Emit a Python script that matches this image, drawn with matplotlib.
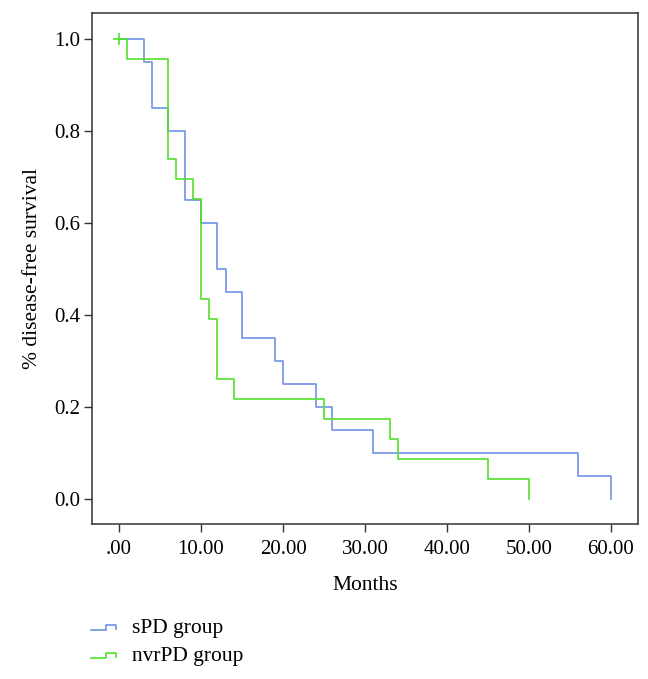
import matplotlib.pyplot as plt
from matplotlib.lines import Line2D

# Kaplan-Meier steps
spd_months = [0, 3, 4, 6, 8, 10, 12, 13, 15, 19, 20, 24, 26, 31, 56, 60]
spd_survival = [1.0, 0.95, 0.85, 0.80, 0.65, 0.60, 0.50, 0.45, 0.35, 0.30, 0.25, 0.20, 0.15, 0.10, 0.05, 0.0]

nvrpd_months = [0, 1, 6, 7, 9, 10, 11, 12, 14, 25, 33, 34, 45, 50]
nvrpd_survival = [1.0, 0.957, 0.739, 0.696, 0.652, 0.435, 0.391, 0.261, 0.217, 0.174, 0.130, 0.087, 0.043, 0.0]

nvrpd_censor_months = [0]
nvrpd_censor_survival = [1.0]

group_labels = ["sPD group", "nvrPD group"]
x_ticks = [0, 10, 20, 30, 40, 50, 60]
x_tick_labels = [".00", "10.00", "20.00", "30.00", "40.00", "50.00", "60.00"]
y_ticks = [0.0, 0.2, 0.4, 0.6, 0.8, 1.0]
y_tick_labels = ["0.0", "0.2", "0.4", "0.6", "0.8", "1.0"]

BLUE = "#7092E6"
GREEN = "#52E02C"
EDGE = "#333333"

plt.rcParams["font.family"] = ["Liberation Serif", "DejaVu Serif"]

W, H = 648, 679
fig = plt.figure(figsize=(W / 100, H / 100), dpi=100)
ax = fig.add_axes([92 / W, 1 - 524 / H, (638 - 92) / W, (524 - 13) / H])

ax.step(spd_months, spd_survival, where="post", color=BLUE, lw=1.2)
ax.step(nvrpd_months, nvrpd_survival, where="post", color=GREEN, lw=1.2)
ax.plot(nvrpd_censor_months, nvrpd_censor_survival, "+", color=GREEN, ms=9, mew=1.2)

ax.set_xlim(-3.3, 63.3)
ax.set_ylim(-0.055, 1.057)
ax.set_xticks(x_ticks)
ax.set_xticklabels(x_tick_labels)
ax.set_yticks(y_ticks)
ax.set_yticklabels(y_tick_labels)
ax.tick_params(direction="out", length=5.5, width=1, color=EDGE, labelsize=15, pad=3)
ax.tick_params(axis="x", pad=6)
for spine in ax.spines.values():
    spine.set_color(EDGE)
    spine.set_linewidth(1.1)

ax.set_xlabel("Months", fontsize=15.5, labelpad=12)
ax.set_ylabel("% disease-free survival", fontsize=15.5, labelpad=9)


def _step_handle(y_px: float, color: str) -> None:
    xs = [91, 106, 106, 116, 116]
    ys = [y_px + 2, y_px + 2, y_px - 3, y_px - 3, y_px + 1]
    fig.add_artist(
        Line2D([x / W for x in xs], [1 - y / H for y in ys], color=color, lw=1.2, transform=fig.transFigure)
    )


for label, color, y_px in zip(group_labels, [BLUE, GREEN], [628, 656]):
    _step_handle(y_px, color)
    fig.text(132 / W, 1 - y_px / H, label, fontsize=15.5, va="center", ha="left")

fig.savefig("out.png", dpi=100)
